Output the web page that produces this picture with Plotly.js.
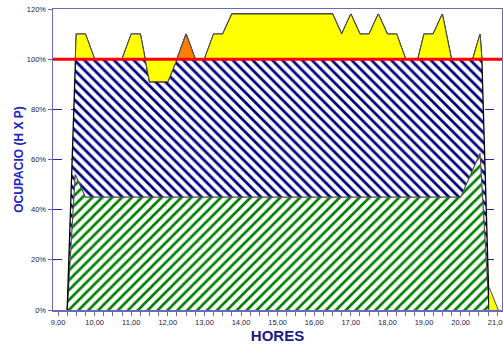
<!DOCTYPE html>
<html><head><meta charset="utf-8">
<script src="https://cdn.plot.ly/plotly-3.0.1.min.js"></script>
<style>html,body{margin:0;padding:0;background:#fff;}#chart{width:503px;height:344px;}</style>
</head><body><div id="chart"></div>
<script>
// Time of day (hours) and total occupancy (%)
const hours = [9.25, 9.47, 9.5, 9.75, 10.0, 10.25, 10.5, 10.75, 11.0, 11.25, 11.5, 11.75, 12.0, 12.25, 12.5, 12.75, 13.0, 13.25, 13.5, 13.75, 14.0, 14.5, 15.0, 15.5, 16.0, 16.5, 16.75, 17.0, 17.25, 17.5, 17.75, 18.0, 18.25, 18.5, 18.83, 19.0, 19.25, 19.5, 19.75, 20.0, 20.33, 20.53, 20.58, 20.78];
const occupancy = [0, 100, 110, 110, 100, 100, 100, 100, 110, 110, 91, 91, 91, 100, 110, 100, 100, 110, 110, 118, 118, 118, 118, 118, 118, 118, 110, 118, 110, 110, 118, 110, 110, 100, 100, 110, 110, 118, 100, 100, 100, 110, 100, 0];
// Base occupancy (green)
const baseHours = [9.25, 9.47, 9.75, 20.0, 20.53, 20.78];
const baseOcc = [0, 54, 45, 45, 62.5, 0];
// Orange peak
const peakHours = [12.25, 12.5, 12.75];
const peakOcc = [100, 110, 100];
// Yellow tail at closing
const tailHours = [20.78, 21.03];
const tailOcc = [9, 0];
// Capacity limit
const capacity = 100;
// Ticks
const hourTicks = [9, 10, 11, 12, 13, 14, 15, 16, 17, 18, 19, 20, 21];
const hourLabels = ['9,00', '10,00', '11,00', '12,00', '13,00', '14,00', '15,00', '16,00', '17,00', '18,00', '19,00', '20,00', '21,00'];
const pctTicks = [0, 20, 40, 60, 80, 100, 120];
const pctLabels = ['0%', '20%', '40%', '60%', '80%', '100%', '120%'];

const xRange = [8.863, 21.13];
const iStart = hours.indexOf(9.47), iEnd = hours.indexOf(20.58);
const frame = '#6b6bb5';
const edge = '#505050';

const traces = [
  {x: baseHours, y: baseOcc, type: 'scatter', mode: 'lines', fill: 'tozeroy',
   fillpattern: {shape: '/', fgcolor: '#008000', bgcolor: '#ffffff', size: 7, solidity: 0.38, fillmode: 'replace'},
   line: {color: edge, width: 1.2}, hoverinfo: 'skip'},
  {x: hours, y: occupancy, type: 'scatter', mode: 'lines', fill: 'tonexty',
   fillpattern: {shape: '\\', fgcolor: '#000080', bgcolor: '#ffffff', size: 7, solidity: 0.4, fillmode: 'replace'},
   line: {color: '#000000', width: 1.3}, hoverinfo: 'skip'},
  {x: xRange, y: [capacity, capacity], type: 'scatter', mode: 'lines',
   line: {color: 'rgba(0,0,0,0)', width: 0}, hoverinfo: 'skip'},
  {x: hours.slice(iStart, iEnd + 1), y: occupancy.slice(iStart, iEnd + 1), type: 'scatter', mode: 'lines', fill: 'tonexty',
   fillcolor: '#FFFF00', line: {color: edge, width: 1}, hoverinfo: 'skip'},
  {x: peakHours, y: peakOcc, type: 'scatter', mode: 'lines', fill: 'toself',
   fillcolor: '#FF8000', line: {color: edge, width: 1}, hoverinfo: 'skip'},
  {x: tailHours, y: tailOcc, type: 'scatter', mode: 'lines', fill: 'tozeroy',
   fillcolor: '#FFFF00', line: {color: edge, width: 1}, hoverinfo: 'skip'}
];

const layout = {
  width: 503, height: 344,
  margin: {l: 53, r: 1, t: 9, b: 34},
  paper_bgcolor: '#ffffff', plot_bgcolor: '#ffffff',
  showlegend: false,
  font: {family: 'Arial, "Liberation Sans", sans-serif', color: '#1a1a3a'},
  xaxis: {
    range: xRange, tickmode: 'array', tickvals: hourTicks, ticktext: hourLabels,
    ticks: 'outside', ticklen: 4, tickwidth: 1, tickcolor: frame, ticklabeloverflow: 'allow',
    minor: {dtick: 0.25, tick0: 9, ticks: 'outside', ticklen: 4, tickwidth: 1, tickcolor: frame, showgrid: false},
    showgrid: false, zeroline: false, showline: true, linecolor: frame, linewidth: 1.5, mirror: true,
    tickfont: {size: 7.5, color: '#1a1a4a'},
    title: {text: 'HORES', font: {size: 15, weight: 'bold', color: '#1a1a8c'}, standoff: 0}
  },
  yaxis: {
    range: [0, 120], tickmode: 'array', tickvals: pctTicks, ticktext: pctLabels,
    ticks: 'outside', ticklen: 4, tickwidth: 1, tickcolor: frame,
    showgrid: true, gridcolor: '#2a2a9a', gridwidth: 1, griddash: 'dash',
    zeroline: false, showline: true, linecolor: frame, linewidth: 1.5, mirror: true,
    tickfont: {size: 7.5, color: '#1a1a4a'},
    title: {text: 'OCUPACIO (H X P)', font: {size: 12, weight: 'bold', color: '#2323c8'}, standoff: 0}
  },
  shapes: [
    {type: 'line', xref: 'paper', x0: 0, x1: 1, yref: 'y', y0: capacity, y1: capacity,
     line: {color: '#FF0000', width: 3}, layer: 'above'}
  ]
};

Plotly.newPlot('chart', traces, layout, {staticPlot: true, displayModeBar: false});
</script>
</body></html>
